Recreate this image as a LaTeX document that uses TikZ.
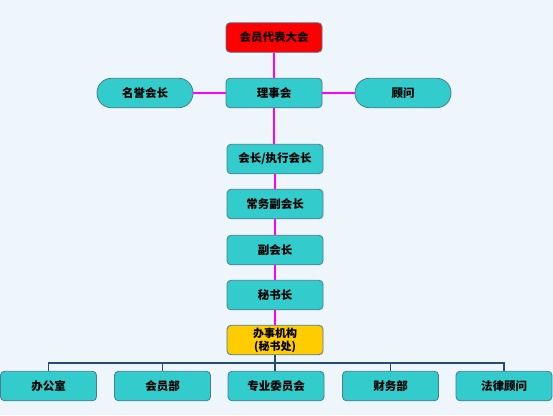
\documentclass[tikz,border=0pt]{standalone}
\usepackage{fontspec}
\newfontfamily\cjk{Noto Sans CJK SC}
\definecolor{bg}{HTML}{EEF6FC}
\definecolor{tealbox}{HTML}{33CCCC}
\definecolor{edge}{HTML}{4A7A94}
\definecolor{magline}{HTML}{FF00FF}
\definecolor{busline}{HTML}{1F4E79}
\definecolor{goldbox}{HTML}{FFCC00}
\begin{document}
\begin{tikzpicture}[x=1pt,y=-1pt,
  orgbox/.style={draw=edge, fill=tealbox, rounded corners=4pt, line width=0.8pt,
    minimum width=96pt, minimum height=29.5pt, inner sep=0pt,
    font=\cjk\bfseries\fontsize{11.5}{13}\selectfont, text=black},
  pillbox/.style={orgbox, rounded corners=14.5pt},
  magconn/.style={draw=magline, line width=2pt},
  busconn/.style={draw=busline, line width=1.6pt}]
\fill[bg] (0,0) rectangle (553,415);
\useasboundingbox (0,0) rectangle (553,415);
% top
\node[orgbox, fill=red] (dahui) at (274,37.5) {会员代表大会};
\node[orgbox] (lishi) at (274,93) {理事会};
\node[pillbox] (mingyu) at (145,93) {名誉会长};
\node[pillbox] (guwen) at (403,93) {顾问};
% middle column
\node[orgbox] (huizhang) at (275,159) {会长/执行会长};
\node[orgbox] (changwu) at (275,204) {常务副会长};
\node[orgbox] (fu) at (275,250) {副会长};
\node[orgbox] (mishu) at (275,295) {秘书长};
\node[orgbox, fill=goldbox, align=center, font=\cjk\bfseries\fontsize{11}{13}\selectfont] (banshi) at (275,340) {办事机构\\(秘书处)};
% bottom row
\node[orgbox] (b1) at (48.5,386) {办公室};
\node[orgbox] (b2) at (162.5,386) {会员部};
\node[orgbox] (b3) at (276,386) {专业委员会};
\node[orgbox] (b4) at (390.5,386) {财务部};
\node[orgbox] (b5) at (504,386) {法律顾问};
\coordinate (bus) at (276,363);
% connectors
\draw[magconn] (dahui.south) -- (lishi.north);
\draw[magconn] (lishi.west) -- (mingyu.east);
\draw[magconn] (lishi.east) -- (guwen.west);
\draw[magconn] (lishi.south) -- (lishi.south |- huizhang.north);
\draw[magconn] (huizhang.south) -- (changwu.north);
\draw[magconn] (changwu.south) -- (fu.north);
\draw[magconn] (fu.south) -- (mishu.north);
\draw[magconn] (mishu.south) -- (banshi.north);
\draw[busconn] (b1.north) -- (b1.north |- bus) -- (b5.north |- bus) -- (b5.north);
\draw[busconn] (banshi.south) -- (banshi.south |- b3.north);
\draw[busconn] (b2.north) -- (b2.north |- bus);
\draw[busconn] (b4.north) -- (b4.north |- bus);
\end{tikzpicture}
\end{document}
